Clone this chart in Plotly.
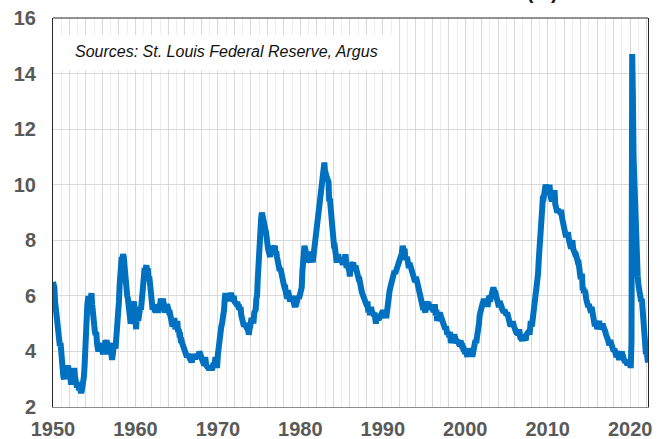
import plotly.graph_objects as go

start_year = 1950
# US civilian unemployment rate, monthly (%), Jan 1950 - Mar 2022
unrate = [
    6.5, 6.4, 6.3, 5.8, 5.5, 5.4, 5.0, 4.5, 4.4, 4.2, 4.2, 4.3,
    3.7, 3.4, 3.4, 3.1, 3.0, 3.2, 3.1, 3.1, 3.3, 3.5, 3.5, 3.1,
    3.2, 3.1, 2.9, 2.9, 3.0, 3.0, 3.2, 3.4, 3.1, 3.0, 2.8, 2.7,
    2.9, 2.6, 2.6, 2.7, 2.5, 2.5, 2.6, 2.7, 2.9, 3.1, 3.5, 4.5,
    4.9, 5.2, 5.7, 5.9, 5.9, 5.6, 5.8, 6.0, 6.1, 5.7, 5.3, 5.0,
    4.9, 4.7, 4.6, 4.7, 4.3, 4.2, 4.0, 4.2, 4.1, 4.3, 4.2, 4.2,
    4.0, 3.9, 4.2, 4.0, 4.3, 4.3, 4.4, 4.1, 3.9, 3.9, 4.3, 4.2,
    4.2, 3.9, 3.7, 3.9, 4.1, 4.3, 4.2, 4.1, 4.4, 4.5, 5.1, 5.2,
    5.8, 6.4, 6.7, 7.4, 7.4, 7.3, 7.5, 7.4, 7.1, 6.7, 6.2, 6.2,
    6.0, 5.9, 5.6, 5.2, 5.1, 5.0, 5.1, 5.2, 5.5, 5.7, 5.8, 5.3,
    5.2, 4.8, 5.4, 5.2, 5.1, 5.4, 5.5, 5.6, 5.5, 6.1, 6.1, 6.6,
    6.6, 6.9, 6.9, 7.0, 7.1, 6.9, 7.0, 6.6, 6.7, 6.5, 6.1, 6.0,
    5.8, 5.5, 5.6, 5.6, 5.5, 5.5, 5.4, 5.7, 5.6, 5.4, 5.7, 5.5,
    5.7, 5.9, 5.7, 5.7, 5.9, 5.6, 5.6, 5.4, 5.5, 5.5, 5.7, 5.5,
    5.6, 5.4, 5.4, 5.3, 5.1, 5.2, 4.9, 5.0, 5.1, 5.1, 4.8, 5.0,
    4.9, 5.1, 4.7, 4.8, 4.6, 4.6, 4.4, 4.4, 4.3, 4.2, 4.1, 4.0,
    4.0, 3.8, 3.8, 3.8, 3.9, 3.8, 3.8, 3.8, 3.7, 3.7, 3.6, 3.8,
    3.9, 3.8, 3.8, 3.8, 3.8, 3.9, 3.8, 3.8, 3.8, 4.0, 3.9, 3.8,
    3.7, 3.8, 3.7, 3.5, 3.5, 3.7, 3.7, 3.5, 3.4, 3.4, 3.4, 3.4,
    3.4, 3.4, 3.4, 3.4, 3.4, 3.5, 3.5, 3.5, 3.7, 3.7, 3.5, 3.5,
    3.9, 4.2, 4.4, 4.6, 4.8, 4.9, 5.0, 5.1, 5.4, 5.5, 5.9, 6.1,
    5.9, 5.9, 6.0, 5.9, 5.9, 5.9, 6.0, 6.1, 6.0, 5.8, 6.0, 6.0,
    5.8, 5.7, 5.8, 5.7, 5.7, 5.7, 5.6, 5.6, 5.5, 5.6, 5.3, 5.2,
    4.9, 5.0, 4.9, 5.0, 4.9, 4.9, 4.8, 4.8, 4.8, 4.6, 4.8, 4.9,
    5.1, 5.2, 5.1, 5.1, 5.1, 5.4, 5.5, 5.5, 5.9, 6.0, 6.6, 7.2,
    8.1, 8.1, 8.6, 8.8, 9.0, 8.8, 8.6, 8.4, 8.4, 8.4, 8.3, 8.2,
    7.9, 7.7, 7.6, 7.7, 7.4, 7.6, 7.8, 7.8, 7.6, 7.7, 7.8, 7.8,
    7.5, 7.6, 7.4, 7.2, 7.0, 7.2, 6.9, 7.0, 6.8, 6.8, 6.8, 6.4,
    6.4, 6.3, 6.3, 6.1, 6.0, 5.9, 6.2, 5.9, 6.0, 5.8, 5.9, 6.0,
    5.9, 5.9, 5.8, 5.8, 5.6, 5.7, 5.7, 6.0, 5.9, 6.0, 5.9, 6.0,
    6.3, 6.3, 6.3, 6.9, 7.5, 7.6, 7.8, 7.7, 7.5, 7.5, 7.5, 7.2,
    7.5, 7.4, 7.4, 7.2, 7.5, 7.5, 7.2, 7.4, 7.6, 7.9, 8.3, 8.5,
    8.6, 8.9, 9.0, 9.3, 9.4, 9.6, 9.8, 9.8, 10.1, 10.4, 10.8, 10.8,
    10.4, 10.4, 10.3, 10.2, 10.1, 10.1, 9.4, 9.5, 9.2, 8.8, 8.5, 8.3,
    8.0, 7.8, 7.8, 7.7, 7.4, 7.2, 7.5, 7.5, 7.3, 7.4, 7.2, 7.3,
    7.3, 7.2, 7.2, 7.3, 7.2, 7.4, 7.4, 7.1, 7.1, 7.1, 7.0, 7.0,
    6.7, 7.2, 7.2, 7.1, 7.2, 7.2, 7.0, 6.9, 7.0, 7.0, 6.9, 6.6,
    6.6, 6.6, 6.6, 6.3, 6.3, 6.2, 6.1, 6.0, 5.9, 6.0, 5.8, 5.7,
    5.7, 5.7, 5.7, 5.4, 5.6, 5.4, 5.4, 5.6, 5.4, 5.4, 5.3, 5.3,
    5.4, 5.2, 5.0, 5.2, 5.2, 5.3, 5.2, 5.2, 5.3, 5.3, 5.4, 5.4,
    5.4, 5.3, 5.2, 5.4, 5.4, 5.2, 5.5, 5.7, 5.9, 5.9, 6.2, 6.3,
    6.4, 6.6, 6.8, 6.7, 6.9, 6.9, 6.8, 6.9, 6.9, 7.0, 7.0, 7.3,
    7.3, 7.4, 7.4, 7.4, 7.6, 7.8, 7.7, 7.6, 7.6, 7.3, 7.4, 7.4,
    7.3, 7.1, 7.0, 7.1, 7.1, 7.0, 6.9, 6.8, 6.7, 6.8, 6.6, 6.5,
    6.6, 6.6, 6.5, 6.4, 6.1, 6.1, 6.1, 6.0, 5.9, 5.8, 5.6, 5.5,
    5.6, 5.4, 5.4, 5.8, 5.6, 5.6, 5.7, 5.7, 5.6, 5.5, 5.6, 5.6,
    5.6, 5.5, 5.5, 5.6, 5.6, 5.3, 5.5, 5.1, 5.2, 5.2, 5.4, 5.4,
    5.3, 5.2, 5.2, 5.1, 4.9, 5.0, 4.9, 4.8, 4.9, 4.7, 4.6, 4.7,
    4.6, 4.6, 4.7, 4.3, 4.4, 4.5, 4.5, 4.5, 4.6, 4.5, 4.4, 4.4,
    4.3, 4.4, 4.2, 4.3, 4.2, 4.3, 4.3, 4.2, 4.2, 4.1, 4.1, 4.0,
    4.0, 4.1, 4.0, 3.8, 4.0, 4.0, 4.0, 4.1, 3.9, 3.9, 3.9, 3.9,
    4.2, 4.2, 4.3, 4.4, 4.3, 4.5, 4.6, 4.9, 5.0, 5.3, 5.5, 5.7,
    5.7, 5.7, 5.7, 5.9, 5.8, 5.8, 5.8, 5.7, 5.7, 5.7, 5.9, 6.0,
    5.8, 5.9, 5.9, 6.0, 6.1, 6.3, 6.2, 6.1, 6.1, 6.0, 5.8, 5.7,
    5.7, 5.6, 5.8, 5.6, 5.6, 5.6, 5.5, 5.4, 5.4, 5.5, 5.4, 5.4,
    5.3, 5.4, 5.2, 5.2, 5.1, 5.0, 5.0, 4.9, 5.0, 5.0, 5.0, 4.9,
    4.7, 4.8, 4.7, 4.7, 4.6, 4.6, 4.7, 4.7, 4.5, 4.4, 4.5, 4.4,
    4.6, 4.5, 4.4, 4.5, 4.4, 4.6, 4.7, 4.6, 4.7, 4.7, 4.7, 5.0,
    5.0, 4.9, 5.1, 5.0, 5.4, 5.6, 5.8, 6.1, 6.1, 6.5, 6.8, 7.3,
    7.8, 8.3, 8.7, 9.0, 9.4, 9.5, 9.5, 9.6, 9.8, 10.0, 9.9, 9.9,
    9.8, 9.8, 9.9, 9.9, 9.6, 9.4, 9.4, 9.5, 9.5, 9.4, 9.8, 9.3,
    9.1, 9.0, 9.0, 9.1, 9.0, 9.1, 9.0, 9.0, 9.0, 8.8, 8.6, 8.5,
    8.3, 8.3, 8.2, 8.2, 8.2, 8.2, 8.2, 8.0, 7.8, 7.8, 7.7, 7.9,
    8.0, 7.7, 7.5, 7.6, 7.5, 7.5, 7.3, 7.2, 7.2, 7.2, 6.9, 6.7,
    6.6, 6.7, 6.7, 6.2, 6.3, 6.1, 6.2, 6.1, 5.9, 5.7, 5.8, 5.6,
    5.7, 5.5, 5.4, 5.4, 5.6, 5.3, 5.2, 5.1, 5.0, 5.0, 5.1, 5.0,
    4.8, 4.9, 5.0, 5.1, 4.8, 4.9, 4.8, 4.9, 5.0, 4.9, 4.7, 4.7,
    4.7, 4.6, 4.4, 4.4, 4.4, 4.3, 4.3, 4.4, 4.3, 4.2, 4.2, 4.1,
    4.0, 4.1, 4.0, 4.0, 3.8, 4.0, 3.8, 3.8, 3.7, 3.8, 3.8, 3.9,
    4.0, 3.8, 3.8, 3.7, 3.6, 3.6, 3.7, 3.6, 3.5, 3.6, 3.6, 3.6,
    3.5, 3.5, 4.4, 14.7, 13.2, 11.0, 10.2, 8.4, 7.9, 6.9, 6.7, 6.7,
    6.4, 6.2, 6.0, 6.1, 5.8, 5.9, 5.4, 5.2, 4.8, 4.6, 4.2, 3.9,
    4.0, 3.8, 3.6,
]

x_ticks = list(range(1950, 2023, 2))
x_labels = [str(y) if y % 10 == 0 else "" for y in x_ticks]
y_ticks = list(range(2, 17, 2))

title_text = "U.S. CIVILIAN UNEMPLOYMENT RATE (%)"
source_text = "Sources: St. Louis Federal Reserve, Argus"

dates = [start_year + i / 12 for i in range(len(unrate))]

fig = go.Figure()
fig.add_trace(go.Scatter(
    x=dates, y=unrate, mode="lines",
    line=dict(color="#0070C0", width=6),
    hoverinfo="skip", showlegend=False,
))

tick_font = dict(family="Liberation Sans, Arial, sans-serif", size=20, color="#595959", weight="bold")

fig.update_layout(
    width=668, height=439,
    margin=dict(l=53, r=20, t=18, b=32, autoexpand=False),
    paper_bgcolor="white", plot_bgcolor="white",
    xaxis=dict(
        range=[start_year, dates[-1]],
        tickmode="array", tickvals=x_ticks, ticktext=x_labels,
        showgrid=True, gridcolor="#d9d9d9", gridwidth=1,
        minor=dict(dtick=1, tick0=1950, showgrid=True, gridcolor="#ededed", gridwidth=1),
        showline=True, linecolor="#8c8c8c", linewidth=1,
        ticks="", tickfont=tick_font, ticklabelstandoff=4,
        zeroline=False, automargin=False,
    ),
    yaxis=dict(
        range=[2, 16], tickvals=y_ticks,
        showgrid=True, gridcolor="#d9d9d9", gridwidth=1,
        showline=True, linecolor="#262626", linewidth=1, mirror=True,
        ticks="", tickfont=tick_font, ticklabelstandoff=12,
        zeroline=False, automargin=False,
    ),
    shapes=[
        dict(type="line", xref="paper", yref="paper", x0=0, x1=1, y0=1, y1=1,
             line=dict(color="#262626", width=1)),
        dict(type="rect", xref="paper", yref="paper", x0=0.003, x1=0.575,
             y0=0.866, y1=0.956, fillcolor="white", line=dict(width=0), layer="above"),
    ],
    annotations=[
        dict(text="<i>" + source_text + "</i>",
             xref="paper", yref="paper", x=0.034, y=0.913,
             xanchor="left", yanchor="middle", showarrow=False,
             font=dict(family="Liberation Sans, Arial, sans-serif", size=16, color="#111111")),
        dict(text="<b>" + title_text + "</b>",
             xref="paper", yref="paper", x=0.852, y=1.033,
             xanchor="right", yanchor="bottom", showarrow=False,
             font=dict(family="Liberation Sans, Arial, sans-serif", size=20, color="#111111")),
    ],
)

fig.write_html("out.html", config={"displayModeBar": False},
               post_script="document.body.style.margin='0px';")
